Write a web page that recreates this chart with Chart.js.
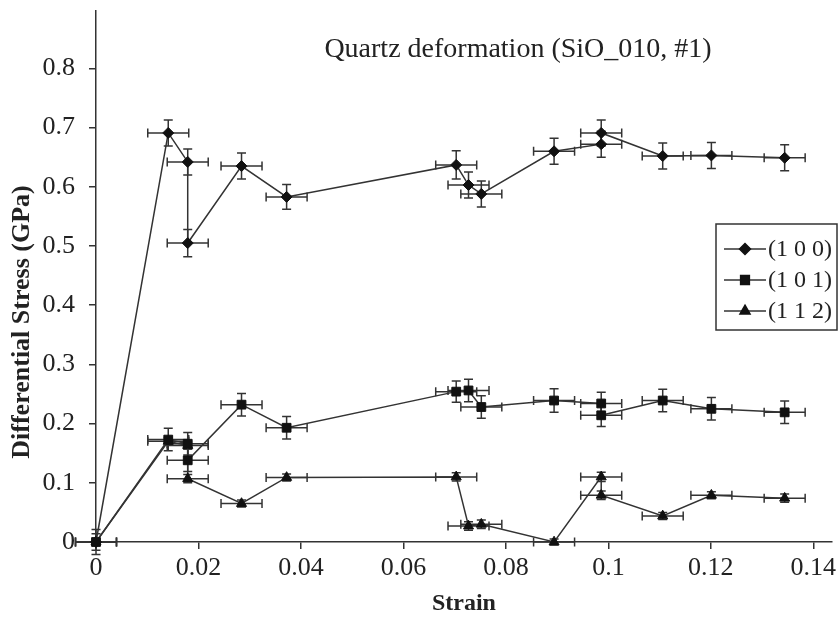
<!DOCTYPE html>
<html>
<head>
<meta charset="utf-8">
<script src="https://cdn.jsdelivr.net/npm/chart.js@4.4.1/dist/chart.umd.min.js"></script>
<style>
  body { margin: 0; background: #fff; }
  #wrap { width: 839px; height: 620px; }
</style>
</head>
<body>
<div id="wrap"><canvas id="stressChart" width="839" height="620"></canvas></div>
<script>
// strain steps (shared by all three reflections)
const strain = [0, 0.0141, 0.0179, 0.0179, 0.0284, 0.0372, 0.0703, 0.0727, 0.0752, 0.0894, 0.0986, 0.0986, 0.1106, 0.1201, 0.1344];
const strainErr = [0.004, 0.004, 0.004, 0.004, 0.004, 0.004, 0.004, 0.004, 0.004, 0.004, 0.004, 0.004, 0.004, 0.004, 0.004];

const stress100 = [0, 0.691, 0.642, 0.505, 0.635, 0.583, 0.637, 0.603, 0.588, 0.660, 0.672, 0.691, 0.652, 0.653, 0.649];
const err100 = [0.021, 0.022, 0.022, 0.023, 0.022, 0.021, 0.024, 0.022, 0.022, 0.022, 0.022, 0.022, 0.022, 0.022, 0.022];

const stress101 = [0, 0.173, 0.166, 0.138, 0.232, 0.193, 0.254, 0.256, 0.228, 0.239, 0.234, 0.214, 0.239, 0.225, 0.219];
const err101 = [0.014, 0.019, 0.019, 0.019, 0.019, 0.019, 0.018, 0.019, 0.019, 0.020, 0.019, 0.019, 0.019, 0.019, 0.019];

const stress112 = [0, 0.170, 0.163, 0.107, 0.065, 0.109, 0.110, 0.027, 0.030, 0, 0.110, 0.079, 0.044, 0.079, 0.074];
const err112 = [0.005, 0.006, 0.006, 0.007, 0.006, 0.006, 0.007, 0.007, 0.007, 0.005, 0.008, 0.007, 0.006, 0.006, 0.007];

const seriesNames = ["(1 0 0)", "(1 0 1)", "(1 1 2)"];

const xTicks = [0, 0.02, 0.04, 0.06, 0.08, 0.1, 0.12, 0.14];
const xTickLabels = ["0", "0.02", "0.04", "0.06", "0.08", "0.1", "0.12", "0.14"];
const yTicks = [0, 0.1, 0.2, 0.3, 0.4, 0.5, 0.6, 0.7, 0.8];
const yTickLabels = ["0", "0.1", "0.2", "0.3", "0.4", "0.5", "0.6", "0.7", "0.8"];

const SERIF = "'Liberation Serif', 'Times New Roman', serif";
const INK = "#222";

function points(ys) {
  return strain.map((s, i) => ({ x: s, y: ys[i] }));
}

function makeSet(label, ys, yErr, style, radius) {
  return {
    label,
    data: points(ys),
    xErr: strainErr,
    yErr,
    showLine: true,
    tension: 0,
    borderColor: "#333",
    borderWidth: 1.5,
    pointStyle: style,
    pointRadius: radius,
    pointBackgroundColor: "#111",
    pointBorderColor: "#111",
    pointBorderWidth: 1,
    clip: false
  };
}

// horizontal + vertical error bars with caps
const errorBars = {
  id: "errorBars",
  beforeDatasetsDraw(chart) {
    const { ctx, scales: { x, y } } = chart;
    const cap = 4.5;
    ctx.save();
    ctx.strokeStyle = "#333";
    ctx.lineWidth = 1.5;
    chart.data.datasets.forEach(ds => {
      ds.data.forEach((p, i) => {
        const px = x.getPixelForValue(p.x);
        const py = y.getPixelForValue(p.y);
        const xl = x.getPixelForValue(p.x - ds.xErr[i]);
        const xr = x.getPixelForValue(p.x + ds.xErr[i]);
        const yt = y.getPixelForValue(p.y + ds.yErr[i]);
        const yb = y.getPixelForValue(p.y - ds.yErr[i]);
        ctx.beginPath();
        ctx.moveTo(xl, py); ctx.lineTo(xr, py);
        ctx.moveTo(xl, py - cap); ctx.lineTo(xl, py + cap);
        ctx.moveTo(xr, py - cap); ctx.lineTo(xr, py + cap);
        ctx.moveTo(px, yt); ctx.lineTo(px, yb);
        ctx.moveTo(px - cap, yt); ctx.lineTo(px + cap, yt);
        ctx.moveTo(px - cap, yb); ctx.lineTo(px + cap, yb);
        ctx.stroke();
      });
    });
    ctx.restore();
  }
};

// title inside the plot, y-axis title and boxed key
const decorations = {
  id: "decorations",
  afterDraw(chart) {
    const { ctx } = chart;
    ctx.save();
    ctx.fillStyle = INK;

    ctx.font = "28px " + SERIF;
    ctx.textAlign = "center";
    ctx.textBaseline = "alphabetic";
    ctx.fillText("Quartz deformation (SiO_010, #1)", 518, 57);

    ctx.save();
    ctx.translate(22, 322);
    ctx.rotate(-Math.PI / 2);
    ctx.font = "bold 26px " + SERIF;
    ctx.textBaseline = "middle";
    ctx.fillText("Differential Stress (GPa)", 0, 0);
    ctx.restore();

    // key box
    ctx.strokeStyle = "#333";
    ctx.lineWidth = 1.5;
    ctx.strokeRect(716, 224, 121, 106);
    const rows = [249, 280, 311];
    ctx.font = "24px " + SERIF;
    ctx.textAlign = "left";
    ctx.textBaseline = "middle";
    chart.data.datasets.forEach((ds, i) => {
      const ry = rows[i];
      ctx.beginPath();
      ctx.moveTo(724, ry); ctx.lineTo(766, ry);
      ctx.stroke();
      ctx.fillStyle = "#111";
      ctx.strokeStyle = "#111";
      Chart.helpers.drawPoint(ctx, { pointStyle: ds.pointStyle, radius: ds.pointRadius, rotation: 0, borderWidth: 1 }, 745, ry);
      ctx.strokeStyle = "#333";
      ctx.fillStyle = INK;
      ctx.fillText(seriesNames[i], 768, ry + 1);
    });
    ctx.restore();
  }
};

const ctx = document.getElementById("stressChart").getContext("2d");
new Chart(ctx, {
  type: "scatter",
  data: {
    datasets: [
      makeSet(seriesNames[0], stress100, err100, "rectRot", 5.5),
      makeSet(seriesNames[1], stress101, err101, "rect", 6.2),
      makeSet(seriesNames[2], stress112, err112, "triangle", 5.8)
    ]
  },
  options: {
    responsive: false,
    animation: false,
    layout: { padding: { top: 11, right: 0, bottom: 0, left: 0 } },
    plugins: {
      legend: { display: false },
      tooltip: { enabled: false }
    },
    scales: {
      x: {
        type: "linear",
        min: 0,
        max: 0.1436,
        afterBuildTicks: axis => { axis.ticks = xTicks.map(v => ({ value: v })); },
        afterFit: s => { s.height = 78; s.paddingLeft = 0; s.paddingRight = 0; },
        grid: { drawOnChartArea: false, drawTicks: true, tickLength: 7, color: "#333", lineWidth: 1.5 },
        border: { display: true, color: "#333", width: 1.5 },
        ticks: {
          autoSkip: false,
          maxRotation: 0,
          padding: 4,
          color: INK,
          font: { family: SERIF, size: 26 },
          callback: (v, i) => xTickLabels[i]
        },
        title: {
          display: true,
          text: "Strain",
          color: INK,
          font: { family: SERIF, size: 24, weight: "bold" },
          padding: { top: 0, bottom: 2 }
        }
      },
      y: {
        min: 0,
        max: 0.897,
        afterBuildTicks: axis => { axis.ticks = yTicks.map(v => ({ value: v })); },
        afterFit: s => { s.width = 96; s.paddingTop = 0; s.paddingBottom = 0; },
        grid: { drawOnChartArea: false, drawTicks: true, tickLength: 7, color: "#333", lineWidth: 1.5 },
        border: { display: true, color: "#333", width: 1.5 },
        ticks: {
          autoSkip: false,
          padding: 14,
          color: INK,
          font: { family: SERIF, size: 26 },
          callback: (v, i) => yTickLabels[i]
        }
      }
    }
  },
  plugins: [errorBars, decorations]
});
</script>
</body>
</html>
